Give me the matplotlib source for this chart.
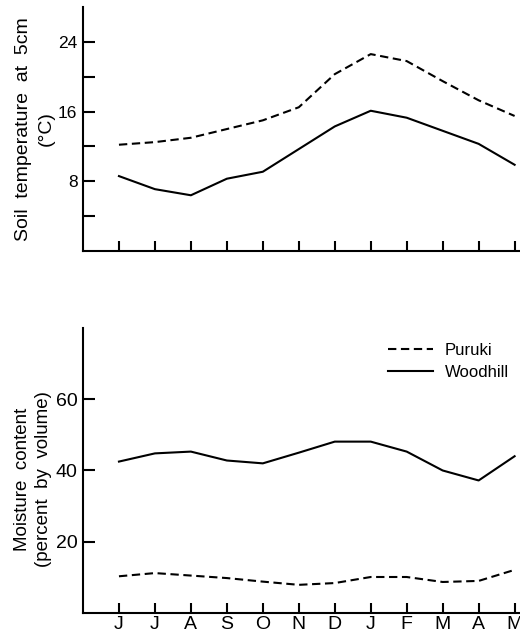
import matplotlib
matplotlib.use("Agg")
import matplotlib.pyplot as plt

months = ["J", "J", "A", "S", "O", "N", "D", "J", "F", "M", "A", "M"]
temp_puruki = [12.2, 12.5, 13.0, 14.0, 15.0, 16.5, 20.3, 22.6, 21.8, 19.5, 17.3, 15.5]
temp_woodhill = [8.6, 7.1, 6.4, 8.3, 9.1, 11.7, 14.3, 16.1, 15.3, 13.8, 12.3, 9.9]
moist_puruki = [10.3, 11.2, 10.5, 9.8, 8.8, 7.9, 8.4, 10.1, 10.1, 8.7, 9.0, 12.1]
moist_woodhill = [42.5, 44.8, 45.3, 42.8, 42.0, 45.0, 48.1, 48.1, 45.3, 40.0, 37.2, 44.0]

plt.rcParams['font.family'] = ['Liberation Sans', 'DejaVu Sans']

fig = plt.figure(figsize=(5.2, 6.36), dpi=100)
ax1 = fig.add_axes([0.1596, 0.6053, 0.8404, 0.3836])
ax2 = fig.add_axes([0.1596, 0.0362, 0.8404, 0.4481])

x = list(range(len(months)))
dash = (0, (4, 2.2))
lw = 1.5

for ax in (ax1, ax2):
    for s in ("top", "right"):
        ax.spines[s].set_visible(False)
    for s in ("left", "bottom"):
        ax.spines[s].set_linewidth(1.5)
    ax.set_xlim(-1, 11.15)
    ax.set_xticks(x)
    ax.tick_params(axis="x", direction="in", length=7, width=1.5, pad=2.5)
    ax.tick_params(axis="y", direction="in", length=8.5, width=1.5, pad=4)

ax1.plot(x, temp_puruki, color="black", lw=lw, linestyle=dash)
ax1.plot(x, temp_woodhill, color="black", lw=lw)
ax1.set_ylim(0, 28)
ax1.set_yticks([4, 8, 12, 16, 20, 24])
ax1.set_yticklabels(["", "8", "", "16", "", "24"], fontsize=12.5)
ax1.set_xticklabels([])
ax1.set_ylabel("Soil  temperature  at  5cm\n(°C)", fontsize=14, linespacing=1.45)
ax1.yaxis.set_label_coords(-0.065, 0.5)

ax2.plot(x, moist_puruki, color="black", lw=lw, linestyle=dash, label="Puruki")
ax2.plot(x, moist_woodhill, color="black", lw=lw, label="Woodhill")
ax2.set_ylim(0, 80)
ax2.set_yticks([20, 40, 60])
ax2.set_yticklabels(["20", "40", "60"], fontsize=14)
ax2.set_xticklabels(months, fontsize=14)
ax2.set_ylabel("Moisture  content\n(percent  by  volume)", fontsize=13.5, linespacing=1.25)
ax2.yaxis.set_label_coords(-0.072, 0.47)
ax2.legend(loc="upper left", bbox_to_anchor=(388 / 520, 1 - 343 / 636),
           bbox_transform=fig.transFigure, frameon=False, fontsize=12,
           handlelength=2.7, handletextpad=0.7, labelspacing=0.4,
           borderpad=0, borderaxespad=0)

fig.savefig("out.png", dpi=100)
